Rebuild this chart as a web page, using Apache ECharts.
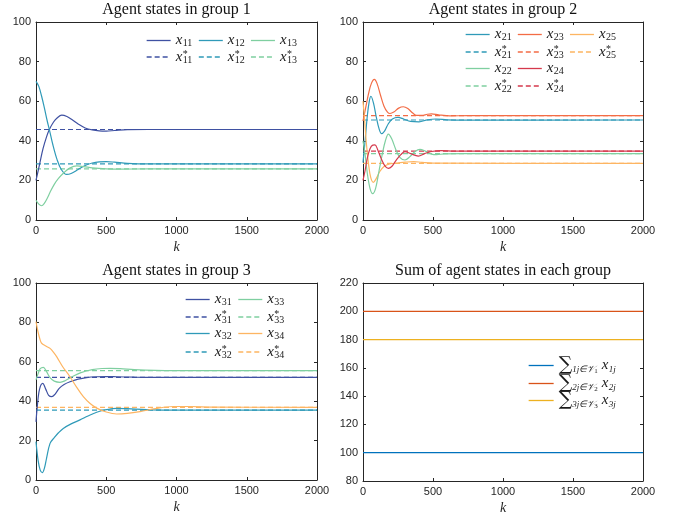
<!DOCTYPE html>
<html><head><meta charset="utf-8">
<script src="https://cdn.jsdelivr.net/npm/echarts@6/dist/echarts.min.js"></script>
<style>html,body{margin:0;padding:0;background:#fff}#c{width:680px;height:517px}</style>
</head><body><div id="c"></div>
<script>
// ---------- data ----------
const kTicks = [0, 500, 1000, 1500, 2000];
const titles = ['Agent states in group 1', 'Agent states in group 2', 'Agent states in group 3', 'Sum of agent states in each group'];

// group 1
const x11 = [[0,20],[25,28],[50,36],[75,42],[95,45.7],[125,49.5],[150,51.5],[183,53],[220,52.3],[260,50.5],[300,48.5],[350,46.5],[400,45.5],[450,45.0],[500,44.9],[560,45.2],[650,45.6],[800,45.7],[2000,45.7]];
const x12 = [[0,70],[20,67.5],[40,62.5],[60,56.5],[80,50],[95,45.7],[120,38],[150,30.5],[180,25.5],[218,23],[250,23.5],[300,25.5],[350,27.5],[400,28.8],[450,29.4],[500,29.5],[560,29.2],[650,28.6],[800,28.3],[2000,28.3]];
const x13 = [[0,10],[20,8],[40,7.2],[60,8.5],[80,11],[100,14],[130,18],[160,21],[200,24],[240,26.2],[290,27.3],[340,27],[400,26.3],[500,25.8],[600,25.7],[800,25.8],[2000,25.8]];
const x11s = 45.7, x12s = 28.3, x13s = 25.8;

// group 2
const x21 = [[0,29],[15,40],[30,52],[45,60],[57,62.5],[75,59],[95,52],[115,46],[133,43.6],[155,45],[180,48.5],[210,51],[250,51.8],[290,51],[340,49.8],[400,49.6],[460,50.6],[520,51],[600,50.6],[700,50.4],[2000,50.5]];
const x23 = [[0,50],[20,57],[40,64],[60,69],[81,71],[100,69],[125,63],[150,57.5],[175,54.5],[193,53.8],[220,54.5],[255,56.5],[288,57.2],[320,56.3],[355,54],[383,52.8],[420,52.8],[460,53.4],[490,53.6],[540,53.1],[620,52.6],[750,52.7],[2000,52.7]];
const x25 = [[0,60],[12,50],[25,38],[40,28],[55,21.5],[74,19],[95,21],[120,24.5],[150,27],[190,28.3],[250,28.8],[300,29.2],[362,29.5],[420,29.1],[500,28.7],[2000,28.6]];
const x22 = [[0,40],[15,33],[30,24],[50,16],[69,13.3],[90,16],[115,25],[140,34],[160,40],[181,43.4],[205,41],[235,35.5],[265,31.5],[300,30.3],[335,32],[370,34.5],[407,35.7],[445,34.8],[490,33.3],[526,33],[580,33.4],[700,33.5],[2000,33.5]];
const x24 = [[0,20],[15,25],[30,31],[50,36],[70,37.8],[86,37.9],[105,35.5],[130,31],[155,27.5],[181,26.1],[205,27],[235,30],[270,33],[300,34.5],[340,33.5],[395,32.3],[440,33.5],[490,34.6],[560,35],[650,34.8],[2000,34.8]];
const x21s = 50.5, x23s = 52.7, x25s = 28.6, x22s = 33.5, x24s = 34.8;

// group 3
const x31 = [[0,29.5],[10,38],[25,46],[48,49],[70,46],[90,43],[112,42.3],[135,43.5],[165,46.5],[200,48.5],[242,49.9],[300,51.2],[360,52],[432,52.4],[500,52.5],[574,52.4],[700,52.2],[850,52.1],[2000,52.1]];
const x33 = [[0,50.8],[15,54],[30,56.5],[52,57.2],[75,55],[100,52],[130,50.2],[171,49.6],[210,50.5],[260,52.5],[320,54.5],[400,56],[470,56.6],[527,56.7],[600,56.5],[700,56],[850,55.6],[1000,55.5],[2000,55.5]];
const x32 = [[0,19.5],[15,10],[30,5],[45,3.7],[60,6],[75,11],[100,18.6],[130,21.5],[160,24],[194,26.2],[250,28.5],[313,30.5],[370,32.5],[432,34.4],[500,35.7],[574,36.4],[650,36.2],[787,35.7],[900,35.5],[2000,35.5]];
const x34 = [[0,80.4],[15,75],[30,71],[40,69.4],[70,68],[100,66.8],[125,64.8],[147,62.6],[190,57.5],[242,52.4],[290,47],[337,42.3],[385,38.8],[432,36.5],[500,34.5],[574,33.5],[650,33.8],[740,34.7],[850,36.2],[978,37.3],[1100,37.3],[1250,37.0],[2000,36.9]];
const x31s = 52.1, x33s = 55.5, x32s = 35.5, x34s = 36.9;

// sums
const sum1 = [[0,100],[2000,100]];
const sum2 = [[0,200],[2000,200]];
const sum3 = [[0,180],[2000,180]];

// ---------- styling ----------
const C = {
  dblue: '#3F51A2', teal: '#2F9AB8', green: '#7FCFA0', ored: '#F36C45',
  lorange: '#FDB562', crimson: '#D5394C',
  m1: '#0072BD', m2: '#D95319', m3: '#EDB120'
};
const AX = '#262626';

const grids = [
  {left: 36, top: 22, width: 281, height: 198},
  {left: 363, top: 22, width: 280, height: 198},
  {left: 36, top: 283, width: 281, height: 197},
  {left: 363, top: 283, width: 280, height: 198}
];
const yRanges = [[0,100,20],[0,100,20],[0,100,20],[80,220,20]];

const xAxis = [], yAxis = [];
grids.forEach((g, i) => {
  const common = {
    gridIndex: i, type: 'value',
    axisLine: {show: true, onZero: false, lineStyle: {color: AX, width: 1}},
    axisTick: {show: true, inside: true, length: 3, lineStyle: {color: AX}},
    splitLine: {show: false}
  };
  const lab = {color: AX, fontSize: 11, fontFamily: 'Liberation Sans', margin: 5, formatter: v => String(v)};
  xAxis.push(Object.assign({}, common, {
    position: 'bottom', min: 0, max: 2000, interval: 500,
    axisLabel: lab,
    name: 'k', nameLocation: 'middle', nameGap: 20,
    nameTextStyle: {fontFamily: 'Liberation Serif', fontStyle: 'italic', fontSize: 14, color: AX}
  }));
  xAxis.push(Object.assign({}, common, {
    position: 'top', min: 0, max: 2000, interval: 500, axisLabel: {show: false}
  }));
  const [mn, mx, iv] = yRanges[i];
  yAxis.push(Object.assign({}, common, {
    position: 'left', min: mn, max: mx, interval: iv,
    axisLabel: lab
  }));
  yAxis.push(Object.assign({}, common, {
    position: 'right', min: mn, max: mx, interval: iv, axisLabel: {show: false}
  }));
});

const series = [];
function addLine(p, name, data, color, dashed) {
  series.push({
    type: 'line', name, data, xAxisIndex: p * 2, yAxisIndex: p * 2,
    symbol: 'none', showSymbol: false, smooth: dashed ? false : 0.35,
    lineStyle: {color, width: 1.2, type: dashed ? [5, 3] : 'solid'},
    itemStyle: {color}, silent: true, z: dashed ? 2 : 3
  });
}
function flat(v) { return [[0, v], [2000, v]]; }

addLine(0, 'x11*', flat(x11s), C.dblue, true);
addLine(0, 'x12*', flat(x12s), C.teal, true);
addLine(0, 'x13*', flat(x13s), C.green, true);
addLine(0, 'x11', x11, C.dblue, false);
addLine(0, 'x12', x12, C.teal, false);
addLine(0, 'x13', x13, C.green, false);

addLine(1, 'x21*', flat(x21s), C.teal, true);
addLine(1, 'x23*', flat(x23s), C.ored, true);
addLine(1, 'x25*', flat(x25s), C.lorange, true);
addLine(1, 'x22*', flat(x22s), C.green, true);
addLine(1, 'x24*', flat(x24s), C.crimson, true);
addLine(1, 'x21', x21, C.teal, false);
addLine(1, 'x23', x23, C.ored, false);
addLine(1, 'x25', x25, C.lorange, false);
addLine(1, 'x22', x22, C.green, false);
addLine(1, 'x24', x24, C.crimson, false);

addLine(2, 'x31*', flat(x31s), C.dblue, true);
addLine(2, 'x33*', flat(x33s), C.green, true);
addLine(2, 'x32*', flat(x32s), C.teal, true);
addLine(2, 'x34*', flat(x34s), C.lorange, true);
addLine(2, 'x31', x31, C.dblue, false);
addLine(2, 'x33', x33, C.green, false);
addLine(2, 'x32', x32, C.teal, false);
addLine(2, 'x34', x34, C.lorange, false);

addLine(3, 's1', sum1, C.m1, false);
addLine(3, 's2', sum2, C.m2, false);
addLine(3, 's3', sum3, C.m3, false);

const rich = {
  x: {fontFamily: 'Liberation Serif', fontStyle: 'italic', fontSize: 15, lineHeight: 16, width: 7, color: '#1a1a1a'},
  s: {fontFamily: 'Liberation Serif', fontSize: 10, lineHeight: 7, verticalAlign: 'bottom', width: 12, color: '#1a1a1a'},
  st: {fontFamily: 'Liberation Serif', fontSize: 10, lineHeight: 8, verticalAlign: 'top', width: 0, color: '#1a1a1a'},
  sum: {fontFamily: 'DejaVu Serif', fontSize: 19, lineHeight: 18, color: '#1a1a1a'},
  ss: {fontFamily: 'Liberation Serif', fontStyle: 'italic', fontSize: 9, lineHeight: 5, verticalAlign: 'bottom', color: '#1a1a1a'},
  sss: {fontFamily: 'Liberation Serif', fontSize: 7, lineHeight: 2, verticalAlign: 'bottom', color: '#1a1a1a'},
  gap: {width: 4}
};
function fmt(name) {
  if (name[0] === 's') {
    const g = name[1];
    return `{sum|∑}{ss|${g}j∈𝒱}{sss|${g}}{gap|}{x|x}{ss|${g}j}`;
  }
  const sub = name.slice(1, 3);
  if (name.endsWith('*')) return `{x|x}{st|*}{s|${sub}}`;
  return `{x|x}{s|${sub}}`;
}
function legendRow(names, left, cy, gap, w) {
  return {
    data: names, left, top: cy - 8, orient: 'horizontal', padding: 0,
    itemWidth: w || 24, itemHeight: 11, itemGap: gap, selectedMode: false,
    itemStyle: {color: 'rgba(0,0,0,0)', borderWidth: 0},
    lineStyle: {width: 1.3},
    formatter: fmt, textStyle: {rich}
  };
}
const legend = [
  legendRow(['x11', 'x12', 'x13'], 146, 41, 3.5),
  legendRow(['x11*', 'x12*', 'x13*'], 146, 57, 3.5),
  legendRow(['x21', 'x23', 'x25'], 465, 35, 3.5),
  legendRow(['x21*', 'x23*', 'x25*'], 465, 52, 3.5),
  legendRow(['x22', 'x24'], 465, 69, 3.5),
  legendRow(['x22*', 'x24*'], 465, 86, 3.5),
  legendRow(['x31', 'x33'], 185, 300, 4),
  legendRow(['x31*', 'x33*'], 185, 317, 4),
  legendRow(['x32', 'x34'], 185, 334, 4),
  legendRow(['x32*', 'x34*'], 185, 352, 4),
  legendRow(['s1'], 528, 364, 4, 25),
  legendRow(['s2'], 528, 382, 4, 25),
  legendRow(['s3'], 528, 399, 4, 25)
];

const graphic = grids.map((g, i) => ({
  type: 'text', x: g.left + g.width / 2, y: g.top - 12,
  style: {text: titles[i], font: '16px "Liberation Serif"', fill: '#111', align: 'center', verticalAlign: 'middle'},
  silent: true
}));

const chart = echarts.init(document.getElementById('c'), null, {renderer: 'canvas'});
chart.setOption({
  animation: false, backgroundColor: '#fff',
  grid: grids.map(g => Object.assign({containLabel: false}, g)),
  xAxis, yAxis, series, legend, graphic
});
</script></body></html>
